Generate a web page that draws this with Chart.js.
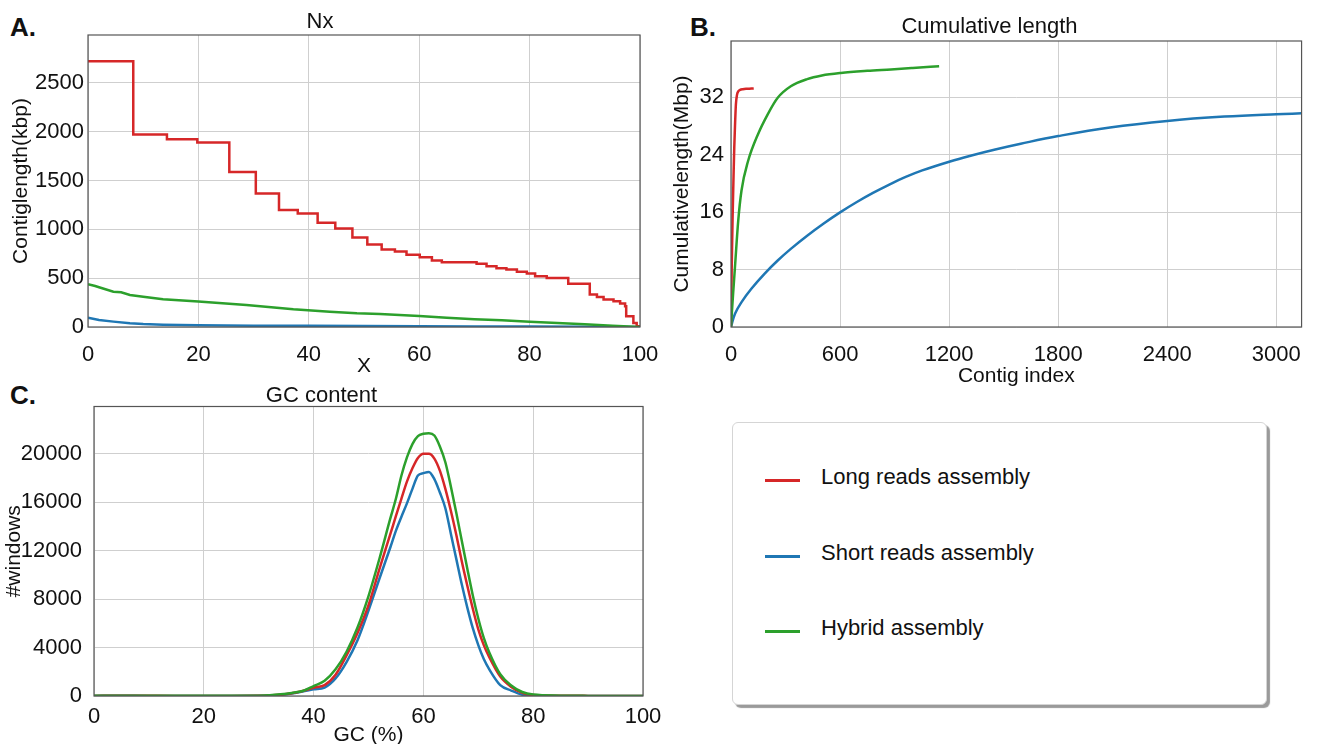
<!DOCTYPE html>
<html>
<head>
<meta charset="utf-8">
<script src="https://cdn.jsdelivr.net/npm/chart.js@4/dist/chart.umd.min.js"></script>
<style>
  body { margin: 0; background: #fff; width: 1327px; height: 744px; overflow: hidden; position: relative; font-family: "Liberation Sans", "Open Sans", sans-serif; }
  canvas { position: absolute; }
  .tag { position: absolute; font-weight: bold; font-size: 26px; color: #111; }
  #legend { position: absolute; left: 732px; top: 422px; width: 533px; height: 281px; border: 1px solid #d5d5d5; border-radius: 6px; box-shadow: 3px 3px 1px #9a9a9a; background: #fff; }
  .item { position: absolute; left: 32px; font-size: 22px; color: #111; }
  .item span { display: inline-block; width: 35px; height: 3px; vertical-align: middle; margin-right: 21px; position: relative; top: 2px; }
</style>
</head>
<body>
<div class="tag" style="left:10px;top:12px">A.</div>
<div class="tag" style="left:690px;top:12px">B.</div>
<div class="tag" style="left:10px;top:380px">C.</div>
<canvas id="nx" width="674" height="380" style="left:0;top:0"></canvas>
<canvas id="cum" width="648" height="392" style="left:668px;top:0"></canvas>
<canvas id="gc" width="714" height="370" style="left:0;top:380px"></canvas>
<div id="legend">
  <div class="item" style="top:41px"><span style="background:#d62728"></span>Long reads assembly</div>
  <div class="item" style="top:117px"><span style="background:#1f77b4"></span>Short reads assembly</div>
  <div class="item" style="top:192px"><span style="background:#2ca02c"></span>Hybrid assembly</div>
</div>
<script>
const seriesNames = ['Long reads assembly', 'Short reads assembly', 'Hybrid assembly'];
const RED = '#d62728', BLUE = '#1f77b4', GREEN = '#2ca02c';

// A. Nx (kbp)
const nxXTicks = [0, 20, 40, 60, 80, 100];
const nxYTicks = [0, 500, 1000, 1500, 2000, 2500];
const redNxX = [0, 8.2, 14.3, 19.8, 25.6, 30.4, 34.6, 38.0, 41.6, 44.8, 47.9, 50.6, 53.2, 55.6, 57.7, 60.1, 62.3, 64.1, 70.4, 72.2, 74.0, 75.8, 77.7, 79.5, 81.0, 83.1, 87.0, 90.9, 92.2, 93.4, 95.2, 96.4, 97.3, 97.5, 98.8, 99.4, 100];
const redNxY = [2720, 1970, 1923, 1888, 1587, 1368, 1197, 1163, 1067, 1009, 917, 845, 794, 773, 739, 715, 681, 664, 648, 622, 601, 588, 565, 548, 520, 503, 442, 332, 308, 281, 264, 240, 213, 110, 42, 8, 0];
const blueNxX = [0, 2, 4.6, 7.6, 10, 13.6, 20, 30, 40, 50, 60, 70, 80, 90, 100];
const blueNxY = [96, 72, 55, 38, 30, 24, 17, 14, 12, 10, 8, 6, 5, 3, 0];
const greenNxX = [0, 1.3, 2, 4.6, 6, 7.6, 10, 13.6, 20, 28.7, 37.2, 43.8, 48.7, 52.9, 60, 65, 70, 75, 80, 85, 90, 95, 100];
const greenNxY = [438, 420, 407, 362, 355, 328, 310, 284, 260, 226, 181, 157, 140, 133, 113, 95, 80, 68, 55, 40, 28, 14, 0];

// B. Cumulative length (Mbp) by contig index
const cumXTicks = [0, 600, 1200, 1800, 2400, 3000];
const cumYTicks = [0, 8, 16, 24, 32];
const redCumX = [0, 4, 9, 14, 18, 22, 27, 33, 40, 50, 65, 90, 125];
const redCumY = [0, 8.4, 15.5, 21, 25, 28, 31, 32.3, 32.8, 33.0, 33.1, 33.15, 33.2];
const blueCumX = [0, 22, 58, 112, 184, 257, 329, 419, 510, 600, 690, 781, 871, 961, 1052, 1205, 1323, 1454, 1594, 1800, 2085, 2400, 2714, 3000, 3139];
const blueCumY = [0, 1.85, 3.47, 5.32, 7.40, 9.25, 10.87, 12.7, 14.4, 15.95, 17.36, 18.66, 19.83, 20.88, 21.79, 23.04, 23.87, 24.7, 25.5, 26.57, 27.77, 28.68, 29.28, 29.62, 29.73];
const greenCumX = [0, 5, 12.6, 21.7, 39.8, 57.8, 94, 148, 202, 257, 329, 419, 500, 604, 750, 880, 1000, 1145];
const greenCumY = [0, 2.1, 5.0, 8.3, 14.8, 19.0, 23.1, 26.8, 29.6, 31.9, 33.5, 34.5, 35.0, 35.35, 35.65, 35.85, 36.05, 36.3];

// C. GC content (#windows)
const gcXTicks = [0, 20, 40, 60, 80, 100];
const gcYTicks = [0, 4000, 8000, 12000, 16000, 20000];
const gcX = [0, 5, 10, 15, 20, 25, 30, 32, 34, 36, 38, 40, 42, 44, 46, 48, 50, 52, 54, 55, 56, 57, 58, 59, 60, 61, 62, 63, 64, 65, 66, 67, 68, 69, 70, 71, 72, 74, 76, 78, 80, 85, 90, 95, 100];
const redGc = [10, 20, 15, 10, 10, 10, 20, 50, 110, 230, 420, 680, 900, 1750, 3350, 5200, 7500, 10500, 13400, 14870, 16300, 17700, 18800, 19650, 20000, 20000, 19600, 18600, 17100, 15300, 13300, 11100, 9100, 7200, 5500, 4200, 3200, 1600, 750, 260, 80, 20, 10, 5, 0];
const blueGc = [10, 15, 10, 10, 10, 10, 15, 40, 90, 200, 360, 550, 700, 1450, 2800, 4600, 7050, 9700, 12300, 13650, 14800, 15900, 17100, 18200, 18400, 18500, 17900, 16800, 15500, 13400, 11300, 9200, 7300, 5600, 4200, 3050, 2200, 900, 450, 110, 20, 5, 5, 0, 0];
const greenGc = [20, 30, 20, 15, 15, 15, 25, 60, 140, 250, 410, 820, 1250, 2200, 3650, 5650, 8250, 11350, 14700, 16300, 18200, 19700, 20800, 21450, 21650, 21700, 21500, 20600, 19300, 17300, 15100, 12800, 10500, 8300, 6400, 4800, 3600, 1800, 870, 330, 120, 30, 10, 5, 0];

const pts = (xs, ys) => xs.map((x, i) => ({x: x, y: ys[i]}));

const FAMILY = '"Liberation Sans", "Open Sans", sans-serif';
const TICK_FONT = {family: FAMILY, size: 22};
const GRID = '#cfcfcf';

// box round the plot area
const frame = {
  id: 'frame',
  afterDraw(chart) {
    const a = chart.chartArea, c = chart.ctx;
    c.save();
    c.strokeStyle = '#555';
    c.lineWidth = 1.2;
    c.strokeRect(a.left, a.top, a.right - a.left, a.bottom - a.top);
    c.restore();
  }
};

function line(label, data, color, order, extra) {
  return Object.assign({label: label, data: data, borderColor: color, backgroundColor: color,
    borderWidth: 2.5, pointRadius: 0, fill: false, order: order}, extra || {});
}

function axis(opts) {
  return {
    type: 'linear',
    min: opts.min, max: opts.max,
    grid: {color: GRID, lineWidth: 1, drawTicks: false},
    border: {display: false},
    afterBuildTicks: s => { s.ticks = opts.ticks.map(v => ({value: v})); },
    ticks: {font: TICK_FONT, color: '#111', padding: opts.pad, maxRotation: 0, autoSkip: false, callback: v => String(v)},
    title: {display: true, text: opts.title, font: {family: FAMILY, size: 21, lineHeight: 1.2}, color: '#111', padding: opts.tpad},
    afterFit: opts.fit
  };
}

function makeChart(id, datasets, title, tpad, layoutPad, xo, yo) {
  return new Chart(document.getElementById(id), {
    type: 'line',
    data: {datasets: datasets},
    options: {
      responsive: false,
      animation: false,
      layout: {padding: layoutPad},
      plugins: {
        legend: {display: false},
        tooltip: {enabled: false},
        title: {display: true, text: title, font: {family: FAMILY, size: 22, weight: 'normal', lineHeight: 1}, color: '#111', padding: tpad}
      },
      scales: {x: axis(xo), y: axis(yo)}
    },
    plugins: [frame]
  });
}

makeChart('nx', [
  line(seriesNames[0], pts(redNxX, redNxY), RED, 1, {stepped: 'before'}),
  line(seriesNames[1], pts(blueNxX, blueNxY), BLUE, 2),
  line(seriesNames[2], pts(greenNxX, greenNxY), GREEN, 0)
], 'Nx', {top: 11, bottom: 2}, {top: 0, right: 34, bottom: 0, left: 0},
  {min: 0, max: 100, ticks: nxXTicks, pad: 15, title: 'X', tpad: {top: 0, bottom: 1}, fit: s => { s.height = 53; }},
  {min: 0, max: 2990, ticks: nxYTicks, pad: 4, title: 'Contiglength(kbp)', tpad: {top: 9, bottom: 0}, fit: s => { s.width = 88; }});

makeChart('cum', [
  line(seriesNames[0], pts(redCumX, redCumY), RED, 1, {cubicInterpolationMode: 'monotone'}),
  line(seriesNames[1], pts(blueCumX, blueCumY), BLUE, 2, {tension: 0.4}),
  line(seriesNames[2], pts(greenCumX, greenCumY), GREEN, 0, {cubicInterpolationMode: 'monotone'})
], 'Cumulative length', {top: 16, bottom: 3}, {top: 0, right: 5, bottom: 0, left: 0},
  {min: 0, max: 3139, ticks: cumXTicks, pad: 15, title: 'Contig index', tpad: {top: 0, bottom: 3}, fit: s => { s.height = 65; }},
  {min: 0, max: 39.8, ticks: cumYTicks, pad: 7, title: 'Cumulativelength(Mbp)', tpad: {top: 2, bottom: 0}, fit: s => { s.width = 63; }});

makeChart('gc', [
  line(seriesNames[0], pts(gcX, redGc), RED, 1, {cubicInterpolationMode: 'monotone'}),
  line(seriesNames[1], pts(gcX, blueGc), BLUE, 2, {cubicInterpolationMode: 'monotone'}),
  line(seriesNames[2], pts(gcX, greenGc), GREEN, 0, {cubicInterpolationMode: 'monotone'})
], 'GC content', {top: 4.5, bottom: 0}, {top: 0, right: 71, bottom: 0, left: 0},
  {min: 0, max: 100, ticks: gcXTicks, pad: 8, title: 'GC (%)', tpad: {top: 0, bottom: 2}, fit: s => { s.height = 54; }},
  {min: 0, max: 23900, ticks: gcYTicks, pad: 12, title: '#windows', tpad: {top: 2, bottom: 0}, fit: s => { s.width = 94; }});
</script>
</body>
</html>
